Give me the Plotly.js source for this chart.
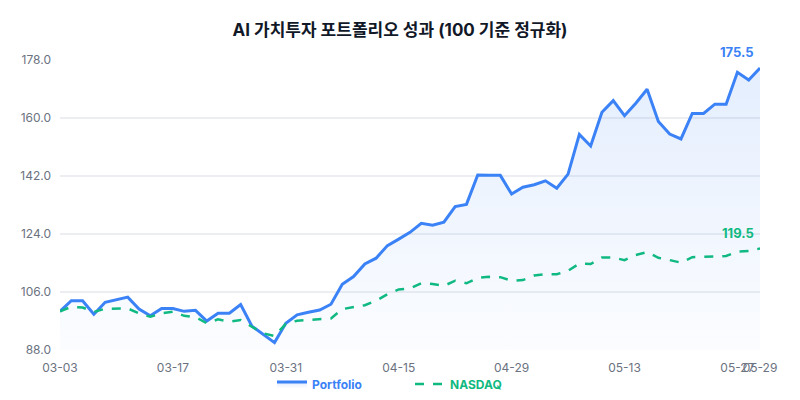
<!DOCTYPE html>
<html>
<head>
<meta charset="utf-8">
<script src="https://cdn.plot.ly/plotly-3.0.1.min.js"></script>
<style>
  html, body { margin: 0; padding: 0; background: #fff; }
  #chart { width: 800px; height: 400px; }
</style>
</head>
<body>
<div id="chart"></div>
<script>
// trading days (MM-DD)
const dates = [
  '03-03','03-04','03-05','03-06','03-07',
  '03-10','03-11','03-12','03-13','03-14',
  '03-17','03-18','03-19','03-20','03-21',
  '03-24','03-25','03-26','03-27','03-28',
  '03-31','04-01','04-02','04-03','04-04',
  '04-07','04-08','04-09','04-10','04-14',
  '04-15','04-16','04-17','04-18','04-21',
  '04-22','04-23','04-24','04-25','04-28',
  '04-29','04-30','05-01','05-02','05-05',
  '05-06','05-07','05-08','05-09','05-12',
  '05-13','05-14','05-15','05-16','05-19',
  '05-20','05-21','05-22','05-23','05-26',
  '05-27','05-28','05-29'
];

const portfolio = [
  100.0, 103.3, 103.3, 99.1, 102.8,
  103.6, 104.4, 100.7, 98.6, 100.9,
  100.9, 100.0, 100.3, 97.0, 99.4,
  99.4, 102.1, 95.4, 92.9, 90.3,
  96.3, 98.9, 99.7, 100.4, 102.2,
  108.4, 110.8, 114.7, 116.5, 120.4,
  122.4, 124.5, 127.3, 126.7, 127.7,
  132.5, 133.2, 142.3, 142.2, 142.2,
  136.4, 138.5, 139.3, 140.5, 138.2,
  142.6, 154.9, 151.3, 161.8, 165.4,
  160.7, 164.6, 168.9, 158.9, 155.0,
  153.5, 161.4, 161.4, 164.3, 164.3,
  174.2, 171.8, 175.5
];

const nasdaq = [
  100.0, 101.4, 101.2, 99.8, 100.8,
  100.8, 100.9, 99.4, 98.3, 99.4,
  99.9, 98.6, 98.2, 96.3, 97.5,
  96.8, 97.3, 95.2, 93.2, 92.3,
  96.1, 97.1, 97.3, 97.7, 97.8,
  100.7, 101.4, 101.9, 103.3, 105.3,
  106.8, 107.1, 108.7, 108.5, 107.9,
  109.5, 108.7, 110.4, 110.7, 110.6,
  109.5, 109.7, 111.1, 111.5, 111.5,
  112.6, 114.8, 114.7, 116.7, 116.7,
  115.9, 117.5, 118.4, 116.6, 115.9,
  115.1, 116.8, 116.8, 117.0, 117.2,
  118.5, 118.7, 119.5
];

const tickDates = ['03-03','03-17','03-31','04-15','04-29','05-13','05-27','05-29'];
const yTicks = [88, 106, 124, 142, 160, 178];

const blue = '#3b82f6';
const green = '#10b981';
const font = 'Inter, "Noto Sans CJK KR", sans-serif';

const last = dates.length - 1;

const traces = [
  {
    type: 'scatter', mode: 'lines',
    name: '<b>Portfolio</b>',
    x: dates, y: portfolio,
    line: { color: blue, width: 3 },
    fill: 'tozeroy',
    fillgradient: {
      type: 'vertical',
      start: 88, stop: 178,
      colorscale: [[0, 'rgba(59,130,246,0.02)'], [1, 'rgba(59,130,246,0.14)']]
    },
    hoverinfo: 'skip'
  },
  {
    type: 'scatter', mode: 'lines',
    name: '<b>NASDAQ</b>',
    x: dates, y: nasdaq,
    line: { color: green, width: 2.5, dash: 'dash' },
    hoverinfo: 'skip'
  }
];

const layout = {
  width: 800, height: 400,
  margin: { l: 60, r: 40, t: 60, b: 50 },
  paper_bgcolor: '#ffffff',
  plot_bgcolor: '#ffffff',
  font: { family: font, color: '#6b7280', size: 12 },
  title: {
    text: '<b>AI 가치투자 포트폴리오 성과 (100 기준 정규화)</b>',
    x: 0.5, xanchor: 'center', y: 0.925, yanchor: 'middle',
    font: { family: font, size: 17, color: '#111827' }
  },
  xaxis: {
    type: 'category',
    range: [0, last],
    tickmode: 'array', tickvals: tickDates, ticktext: tickDates,
    tickangle: 0,
    automargin: false,
    showgrid: false, zeroline: false,
    showline: false,
    ticks: '',
    ticklabelstandoff: 9,
    tickfont: { size: 12, color: '#6b7280' }
  },
  yaxis: {
    range: [88, 178],
    tickmode: 'array', tickvals: yTicks,
    tickformat: '.1f',
    automargin: false,
    showgrid: true, gridcolor: '#eceef2', gridwidth: 1.5,
    zeroline: false, showline: false, ticks: '',
    ticklabelstandoff: 8,
    tickfont: { size: 12, color: '#6b7280' }
  },
  showlegend: true,
  legend: {
    orientation: 'h', x: 0.5, xanchor: 'center',
    yref: 'container', y: 0.04, yanchor: 'middle',
    bgcolor: 'rgba(0,0,0,0)',
    font: { size: 12 },
    entrywidth: 93, entrywidthmode: 'pixels'
  },
  annotations: [
    {
      x: dates[last], y: portfolio[last], xref: 'x', yref: 'y',
      text: '<b>' + portfolio[last].toFixed(1) + '</b>',
      showarrow: false, xanchor: 'right', yanchor: 'bottom', yshift: 6, xshift: -4,
      font: { size: 13, color: blue, family: font }
    },
    {
      x: dates[last], y: nasdaq[last], xref: 'x', yref: 'y',
      text: '<b>' + nasdaq[last].toFixed(1) + '</b>',
      showarrow: false, xanchor: 'right', yanchor: 'bottom', yshift: 6, xshift: -4,
      font: { size: 13, color: green, family: font }
    }
  ]
};

Plotly.newPlot('chart', traces, layout, { displayModeBar: false, staticPlot: true }).then(() => {
  // colour each legend label like its line
  const cols = [blue, green];
  document.querySelectorAll('.legendtext').forEach((t, i) => {
    t.style.fill = cols[i];
  });
});
</script>
</body>
</html>
